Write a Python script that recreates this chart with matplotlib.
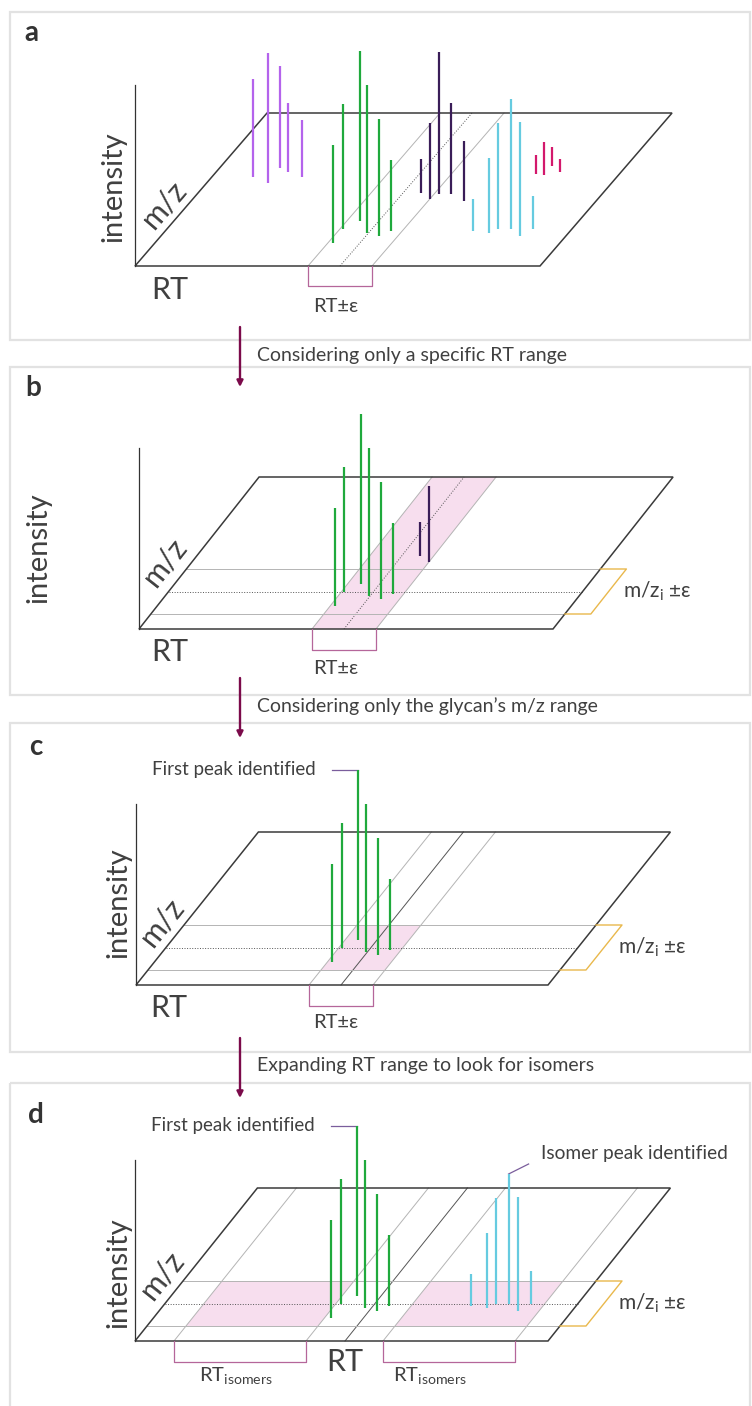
import numpy as np
import matplotlib.pyplot as plt
from matplotlib.patches import Polygon, Rectangle

plt.rcParams['font.family'] = ['Lato', 'DejaVu Sans']
plt.rcParams['mathtext.default'] = 'regular'

# peaks: retention time, m/z position on the plane, intensity
green_rt = [178, 176, 186, 204, 218, 226]
green_mz = [23, 37, 45, 33, 30, 35]
green_int = [98, 125, 170, 148, 117, 71]

purple_rt = [41, 61, 60, 72, 90]
purple_mz = [89, 83, 98, 94, 89]
purple_int = [98, 130, 102, 69, 57]

navy_rt = [223, 237, 242, 254, 273]
navy_mz = [73, 67, 72, 72, 65]
navy_int = [34, 76, 142, 91, 60]

cyan_rt = [308, 326, 331, 344, 359, 366]
cyan_mz = [35, 33, 37, 37, 30, 37]
cyan_int = [32, 75, 106, 130, 114, 33]

red_rt = [322, 330, 331, 344]
red_mz = [92, 91, 100, 94]
red_int = [19, 33, 19, 13]

rt_window = [173, 205, 237]
mz_window = [15, 37.5, 60]
iso_left = [39, 171]
iso_right = [248, 380]
iso_mid = [171, 210, 248]

captions = ['Considering only a specific RT range',
            'Considering only the glycan\u2019s m/z range',
            'Expanding RT range to look for isomers']

GREEN = '#1fa93c'
PURPLE = '#b463ec'
NAVY = '#3a1d58'
CYAN = '#66cbe0'
RED = '#d3186c'
PINK = '#f7deee'
BRK = '#b5669a'
YEL = '#e9b84c'
EDGE = '#3a3a3a'
GUIDE = '#b4b4b4'
TXT = '#404040'

fig = plt.figure(figsize=(7.52, 14.06), dpi=100)
ax = fig.add_axes([0, 0, 1, 1])
ax.set_xlim(0, 752)
ax.set_ylim(1406, 0)
ax.axis('off')

# plane geometry per panel: origin x, origin y, width, depth, shear
pa = (135, 266, 405, 153, 0.863)
pb = (139, 629, 414, 152, 0.79)
pc = (136, 985, 412, 153, 0.80)
pd = (135, 1341, 413, 153, 0.80)


def proj(p, rt, mz, h=0):
    x0, y0, w, d, k = p
    return x0 + rt + mz * k, y0 - mz - h


def plane(p):
    x0, y0, w, d, k = p
    pts = [proj(p, 0, 0), proj(p, w, 0), proj(p, w, d), proj(p, 0, d)]
    ax.add_patch(Polygon(pts, closed=True, fill=False, ec=EDGE, lw=1.1, zorder=3))
    ax.plot([x0, x0], [y0, y0 - 181], color='#333333', lw=0.9, zorder=3)


def diag(p, r, style='-', color=GUIDE):
    d = p[3]
    a = proj(p, r, 0)
    b = proj(p, r, d)
    ax.plot([a[0], b[0]], [a[1], b[1]], ls=style, color=color, lw=0.7, zorder=2)


def horiz(p, m, style='-', color=GUIDE):
    w = p[2]
    a = proj(p, 0, m)
    b = proj(p, w, m)
    ax.plot([a[0], b[0]], [a[1], b[1]], ls=style, color=color, lw=0.7, zorder=2)


def fill(p, r1, r2, m1, m2):
    pts = [proj(p, r1, m1), proj(p, r2, m1), proj(p, r2, m2), proj(p, r1, m2)]
    ax.add_patch(Polygon(pts, closed=True, fc=PINK, ec='none', zorder=1))


def peaks(p, rts, mzs, ints, color, idx=None):
    if idx is None:
        idx = range(len(rts))
    for i in idx:
        x, yb = proj(p, rts[i], mzs[i])
        ax.plot([x, x], [yb, yb - ints[i]], color=color, lw=1.6,
                solid_capstyle='butt', zorder=5)


def rt_bracket(p, r1, r2, depth=20):
    y0 = p[1]
    x1 = proj(p, r1, 0)[0]
    x2 = proj(p, r2, 0)[0]
    ax.plot([x1, x1, x2, x2], [y0, y0 + depth, y0 + depth, y0], color=BRK, lw=0.9, zorder=3)


def mz_bracket(p):
    w = p[2]
    pts = [proj(p, w, mz_window[2]), proj(p, w + 26, mz_window[2]),
           proj(p, w + 26, mz_window[0]), proj(p, w, mz_window[0])]
    ax.plot([q[0] for q in pts], [q[1] for q in pts], color=YEL, lw=1.0, zorder=3)
    tx, ty = proj(p, w + 40, mz_window[1])
    ax.text(tx, ty, 'm/z$_{i}$ \u00b1\u03b5', fontsize=15, color=TXT, va='center', ha='left')


def mz_label(p, x, y):
    ang = np.degrees(np.arctan(1 / p[4]))
    ax.text(x, y, 'm/z', fontsize=22, color=TXT, rotation=ang,
            rotation_mode='anchor', ha='center', va='center')


def first_peak_label(p):
    i = int(np.argmax(green_int))
    x, yb = proj(p, green_rt[i], green_mz[i])
    yt = yb - green_int[i]
    ax.plot([x - 26, x], [yt, yt], color='#7a5d9c', lw=0.9, zorder=4)
    ax.text(x - 42, yt, 'First peak identified', fontsize=13.5, color=TXT,
            ha='right', va='center')


# frames
for top, bottom in [(12, 340), (367, 695), (723, 1052), (1083, 1420)]:
    ax.add_patch(Rectangle((10, top), 740, bottom - top, fill=False,
                           ec='#e2e2e2', lw=1.6, zorder=0))

# arrows and captions between panels
for (y1, y2), cap in zip([(327, 387), (678, 738), (1038, 1098)], captions):
    ax.annotate('', xy=(240, y2), xytext=(240, y1),
                arrowprops=dict(arrowstyle='-|>', color='#7b0a4a', lw=1.7,
                                mutation_scale=9, shrinkA=0, shrinkB=0))
    ax.text(257, (y1 + y2) / 2 - 2 + (1 if y1 == 327 else 0), cap, fontsize=14,
            color=TXT, va='center', ha='left')

# panel labels
for lab, (x, y) in zip('abcd', [(31, 33), (33, 388), (36, 747), (36, 1115)]):
    ax.text(x, y, lab, fontsize=20, fontweight='bold', color='#333333',
            ha='center', va='center')

# ---- panel a
plane(pa)
diag(pa, rt_window[0])
diag(pa, rt_window[1], ':', '#555555')
diag(pa, rt_window[2])
peaks(pa, purple_rt, purple_mz, purple_int, PURPLE)
peaks(pa, green_rt, green_mz, green_int, GREEN)
peaks(pa, navy_rt, navy_mz, navy_int, NAVY)
peaks(pa, cyan_rt, cyan_mz, cyan_int, CYAN)
peaks(pa, red_rt, red_mz, red_int, RED)
rt_bracket(pa, rt_window[0], rt_window[2])
ax.text(113, 187, 'intensity', fontsize=21, color=TXT, rotation=90, ha='center', va='center')
mz_label(pa, 164, 204)
ax.text(170, 290, 'RT', fontsize=22, color=TXT, ha='center', va='center')
ax.text(336, 306, 'RT\u00b1\u03b5', fontsize=14.5, color=TXT, ha='center', va='center')

# ---- panel b
fill(pb, rt_window[0], rt_window[2], 0, pb[3])
plane(pb)
diag(pb, rt_window[0])
diag(pb, rt_window[1], ':', '#555555')
diag(pb, rt_window[2])
horiz(pb, mz_window[0])
horiz(pb, mz_window[1], ':', '#555555')
horiz(pb, mz_window[2])
peaks(pb, green_rt, green_mz, green_int, GREEN)
peaks(pb, navy_rt, navy_mz, navy_int, NAVY, idx=[0, 1])
rt_bracket(pb, rt_window[0], rt_window[2], 21)
mz_bracket(pb)
ax.text(38, 548, 'intensity', fontsize=21, color=TXT, rotation=90, ha='center', va='center')
mz_label(pb, 165, 562)
ax.text(170, 652, 'RT', fontsize=22, color=TXT, ha='center', va='center')
ax.text(336, 668, 'RT\u00b1\u03b5', fontsize=14.5, color=TXT, ha='center', va='center')

# ---- panel c
fill(pc, rt_window[0], rt_window[2], mz_window[0], mz_window[2])
plane(pc)
diag(pc, rt_window[0])
diag(pc, rt_window[1], '-', '#555555')
diag(pc, rt_window[2])
horiz(pc, mz_window[0])
horiz(pc, mz_window[1], ':', '#555555')
horiz(pc, mz_window[2])
peaks(pc, green_rt, green_mz, green_int, GREEN)
first_peak_label(pc)
rt_bracket(pc, rt_window[0], rt_window[2], 21)
mz_bracket(pc)
ax.text(118, 903, 'intensity', fontsize=21, color=TXT, rotation=90, ha='center', va='center')
mz_label(pc, 162, 922)
ax.text(169, 1008, 'RT', fontsize=22, color=TXT, ha='center', va='center')
ax.text(336, 1023, 'RT\u00b1\u03b5', fontsize=14.5, color=TXT, ha='center', va='center')

# ---- panel d
fill(pd, iso_left[0], iso_left[1], mz_window[0], mz_window[2])
fill(pd, iso_right[0], iso_right[1], mz_window[0], mz_window[2])
plane(pd)
for r in iso_left + iso_mid[1:2] + iso_right:
    diag(pd, r, '-', '#555555' if r == iso_mid[1] else GUIDE)
horiz(pd, mz_window[0])
horiz(pd, mz_window[1], ':', '#555555')
horiz(pd, mz_window[2])
peaks(pd, green_rt, green_mz, green_int, GREEN)
peaks(pd, cyan_rt, cyan_mz, cyan_int, CYAN)
first_peak_label(pd)
j = int(np.argmax(cyan_int))
cx, cy = proj(pd, cyan_rt[j], cyan_mz[j], cyan_int[j])
ax.plot([cx, cx + 20], [cy, cy - 10], color='#7a5d9c', lw=0.9, zorder=4)
ax.text(541, 1153, 'Isomer peak identified', fontsize=13.8, color=TXT, ha='left', va='center')
rt_bracket(pd, iso_left[0], iso_left[1], 21)
rt_bracket(pd, iso_right[0], iso_right[1], 21)
mz_bracket(pd)
ax.text(118, 1273, 'intensity', fontsize=21, color=TXT, rotation=90, ha='center', va='center')
mz_label(pd, 162, 1275)
ax.text(345, 1362, 'RT', fontsize=22, color=TXT, ha='center', va='center')
ax.text(236, 1375, 'RT$_{isomers}$', fontsize=14.5, color=TXT, ha='center', va='center')
ax.text(430, 1375, 'RT$_{isomers}$', fontsize=14.5, color=TXT, ha='center', va='center')

fig.savefig('out.png', dpi=100, facecolor='white')
